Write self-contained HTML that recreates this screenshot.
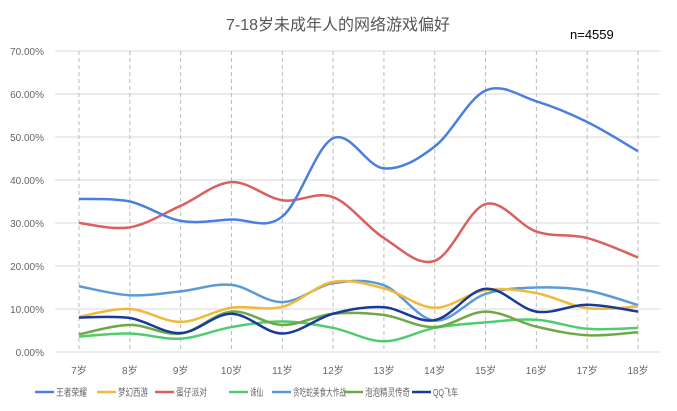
<!DOCTYPE html>
<html><head><meta charset="utf-8"><style>
body{margin:0;background:#fff;font-family:"Liberation Sans","Noto Sans CJK SC",sans-serif}
</style></head><body>
<svg id="c" width="677" height="411" style="display:block"></svg>
<script>
const categories=["7岁","8岁","9岁","10岁","11岁","12岁","13岁","14岁","15岁","16岁","17岁","18岁"];
const yTicks=[0,10,20,30,40,50,60,70];
const seriesNames=["王者荣耀","梦幻西游","蛋仔派对","诛仙","贪吃蛇美食大作战","泡泡精灵传奇","QQ飞车"];
const seriesColors=["#4a7fe0","#f0b93a","#d9605e","#4fcd6e","#5b9bd5","#70a845","#1a3a9a"];
const wzry=[35.6,35.0,30.5,30.8,31.5,49.7,42.7,47.8,60.8,58.3,53.5,46.7];
const mhxy=[8.2,10,7,10.3,10.5,16.3,14.8,10.3,14.4,13.7,10.2,10.6];
const dzpd=[30,29,34,39.5,35.3,36,26.5,21.2,34.4,28,26.5,22];
const zx=[3.6,4.3,3.1,5.8,7.1,5.6,2.5,5.6,6.9,7.5,5.4,5.6];
const tcs=[15.3,13.2,14.1,15.6,11.6,16,15.5,7.3,13.5,15,14.3,10.9];
const ppjl=[4.1,6.3,4.3,9.4,6.3,8.9,8.6,5.8,9.4,5.9,3.9,4.6];
const qqfc=[8,7.9,4.4,8.9,4.3,8.9,10.4,7.4,14.7,9.4,11,9.4];
const seriesData=[wzry,mhxy,dzpd,zx,tcs,ppjl,qqfc];
const NS="http://www.w3.org/2000/svg",svg=document.getElementById('c');
const x=i=>79+i*(638-79)/(categories.length-1);
const y=v=>352-v*(352-51)/70;
function mk(t,a,txt){const e=document.createElementNS(NS,t);for(const k in a)e.setAttribute(k,a[k]);if(txt!=null)e.textContent=txt;svg.appendChild(e);return e;}
let t=mk('text',{x:338,y:30,'text-anchor':'middle','font-size':16,fill:'#555'},'7-18岁未成年人的网络游戏偏好');


t=mk('text',{x:570,y:39,'font-size':13,fill:'#000'},'n=4559');


yTicks.forEach(v=>{
 let l=mk('line',{x1:55,x2:660,y1:y(v),y2:y(v),stroke:'#e6e6e6','stroke-width':1.5});
 
 
 let tx=mk('text',{x:44,y:y(v)+4,'text-anchor':'end','font-size':10,fill:'#666'},v.toFixed(2)+'%');
 
 
});
categories.forEach((c,i)=>{
 let l=mk('line',{x1:x(i),x2:x(i),y1:y(70),y2:y(0),stroke:'#bbb','stroke-dasharray':'4,3','stroke-width':1});
 
 
 let tx=mk('text',{x:x(i),y:374,'text-anchor':'middle','font-size':10,fill:'#666'},c);
 
 
});
function path(d){const p=d.map((v,i)=>[x(i),y(v)]);let s=`M${p[0][0]},${p[0][1]}`;
 for(let i=0;i<p.length-1;i++){const p0=p[i-1]||p[i],p1=p[i],p2=p[i+1],p3=p[i+2]||p2;const k=0.17;
 s+=` C${p1[0]+(p2[0]-p0[0])*k},${p1[1]+(p2[1]-p0[1])*k} ${p2[0]-(p3[0]-p1[0])*k},${p2[1]-(p3[1]-p1[1])*k} ${p2[0]},${p2[1]}`;}return s;}
const order=[2,4,1,3,5,6,0];
order.forEach(si=>{
 let p=mk('path',{d:path(seriesData[si]),fill:'none',stroke:seriesColors[si],'stroke-width':2.5});
 
 
});
const lx=[35,97,155,229,272,344,412];
const lw=[31,30,31,13,53,45,25];
seriesNames.forEach((n,i)=>{
 let l=mk('line',{x1:lx[i],x2:lx[i]+19,y1:392,y2:392,stroke:seriesColors[i],'stroke-width':2.5});
 
 
 let tx=mk('text',{x:lx[i]+21,y:396,'font-size':10,fill:'#666',textLength:lw[i],lengthAdjust:'spacingAndGlyphs'},n);
 
 
});
</script>
</body></html>
